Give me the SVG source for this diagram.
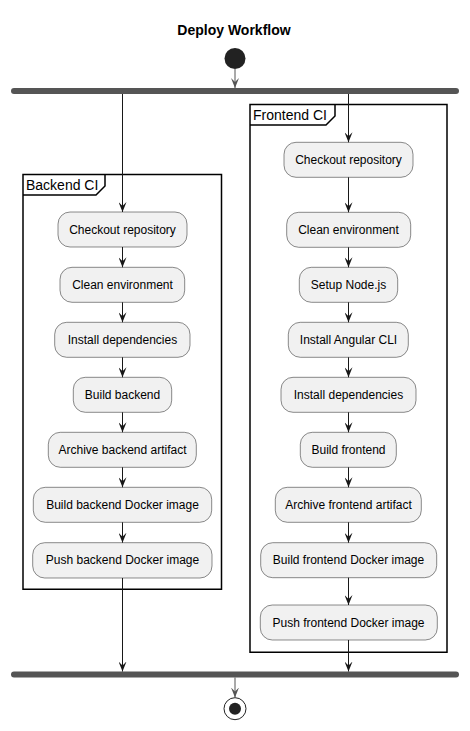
<svg xmlns="http://www.w3.org/2000/svg" width="470" height="731" viewBox="0 0 470 731">
<style>
.act rect{fill:#F1F1F1;stroke:#181818;stroke-width:0.5}
.act text{font-family:"Liberation Sans",Arial,sans-serif;font-size:12px;fill:#000;text-anchor:middle}
.frame path{fill:none;stroke:#000;stroke-width:1.5}
.frame text{font-family:"Liberation Sans",Arial,sans-serif;font-size:14px;fill:#000}
.ln{stroke:#181818;stroke-width:1;fill:none;marker-end:url(#ah)}
.lg{stroke:#555555;stroke-width:1;fill:none;marker-end:url(#ahg)}
.bar{fill:#555555}
</style>
<defs>
<marker id="ah" markerUnits="userSpaceOnUse" markerWidth="10" markerHeight="8" refX="10" refY="4" orient="auto" viewBox="0 0 10 8">
<path d="M0,0 L10,4 L0,8 L4,4 Z" fill="#181818"/>
</marker>
<marker id="ahg" markerUnits="userSpaceOnUse" markerWidth="10" markerHeight="8" refX="10" refY="4" orient="auto" viewBox="0 0 10 8">
<path d="M0,0 L10,4 L0,8 L4,4 Z" fill="#555555"/>
</marker>
</defs>
<rect width="470" height="731" fill="#FFFFFF"/>
<text x="234" y="34.5" font-family="'Liberation Sans',Arial,sans-serif" font-size="14" font-weight="bold" text-anchor="middle">Deploy Workflow</text>

<g id="start"><circle cx="235" cy="58.5" r="10.5" fill="#222222"/></g>
<g id="fork"><rect class="bar" x="11" y="88" width="448" height="6" rx="3"/></g>
<g id="join"><rect class="bar" x="11" y="671.5" width="448" height="6" rx="3"/></g>
<g id="end"><circle cx="235" cy="708.7" r="11" fill="#FFFFFF" stroke="#222222" stroke-width="1"/><circle cx="235" cy="708.7" r="6" fill="#222222"/></g>

<g id="frame-backend" class="frame">
<path d="M23,174.5 H221.5 V589.3 H23 Z"/>
<path d="M23,195 H96 L105,186 V174.5"/>
<text x="26" y="190">Backend CI</text>
</g>
<g id="frame-frontend" class="frame">
<path d="M250,104.5 H447 V652.3 H250 Z"/>
<path d="M250,125 H326 L335,116 V104.5"/>
<text x="253" y="120">Frontend CI</text>
</g>

<g id="b1" class="act"><rect x="58" y="212" width="129" height="35" rx="12"/><text x="122.5" y="233.7">Checkout repository</text></g>
<g id="b2" class="act"><rect x="60" y="267.3" width="124.7" height="35" rx="12"/><text x="122.5" y="289">Clean environment</text></g>
<g id="b3" class="act"><rect x="54.7" y="322.3" width="135.3" height="35" rx="12"/><text x="122.5" y="344">Install dependencies</text></g>
<g id="b4" class="act"><rect x="73.3" y="377.3" width="98.4" height="35" rx="12"/><text x="122.5" y="399">Build backend</text></g>
<g id="b5" class="act"><rect x="48.3" y="432.3" width="148" height="35" rx="12"/><text x="122.5" y="454">Archive backend artifact</text></g>
<g id="b6" class="act"><rect x="33.3" y="487.3" width="178.4" height="35" rx="12"/><text x="122.5" y="509">Build backend Docker image</text></g>
<g id="b7" class="act"><rect x="32.7" y="542.7" width="179.3" height="35.3" rx="12"/><text x="122.5" y="564.4">Push backend Docker image</text></g>

<g id="f1" class="act"><rect x="284" y="142.3" width="129" height="35" rx="12"/><text x="348.5" y="164">Checkout repository</text></g>
<g id="f2" class="act"><rect x="286.7" y="212.3" width="124" height="35" rx="12"/><text x="348.5" y="234">Clean environment</text></g>
<g id="f3" class="act"><rect x="299.3" y="267.3" width="98.4" height="35" rx="12"/><text x="348.5" y="289">Setup Node.js</text></g>
<g id="f4" class="act"><rect x="288.3" y="322.3" width="120" height="35" rx="12"/><text x="348.5" y="344">Install Angular CLI</text></g>
<g id="f5" class="act"><rect x="281" y="377.3" width="135" height="35" rx="12"/><text x="348.5" y="399">Install dependencies</text></g>
<g id="f6" class="act"><rect x="300.3" y="432.3" width="96" height="35" rx="12"/><text x="348.5" y="454">Build frontend</text></g>
<g id="f7" class="act"><rect x="275.3" y="487.3" width="146" height="35" rx="12"/><text x="348.5" y="509">Archive frontend artifact</text></g>
<g id="f8" class="act"><rect x="260.7" y="542.7" width="176" height="35" rx="12"/><text x="348.5" y="564.4">Build frontend Docker image</text></g>
<g id="f9" class="act"><rect x="260.3" y="605" width="177" height="35" rx="12"/><text x="348.5" y="626.7">Push frontend Docker image</text></g>

<g id="connectors">
<line class="lg" x1="235" y1="69" x2="235" y2="88"/>
<line class="ln" x1="122.5" y1="94" x2="122.5" y2="212"/>
<line class="ln" x1="122.5" y1="247" x2="122.5" y2="267.3"/>
<line class="ln" x1="122.5" y1="302.3" x2="122.5" y2="322.3"/>
<line class="ln" x1="122.5" y1="357.3" x2="122.5" y2="377.3"/>
<line class="ln" x1="122.5" y1="412.3" x2="122.5" y2="432.3"/>
<line class="ln" x1="122.5" y1="467.3" x2="122.5" y2="487.3"/>
<line class="ln" x1="122.5" y1="522.3" x2="122.5" y2="542.7"/>
<line class="ln" x1="122.5" y1="578" x2="122.5" y2="671.5"/>
<line class="ln" x1="348.5" y1="94" x2="348.5" y2="142.3"/>
<line class="ln" x1="348.5" y1="177.3" x2="348.5" y2="212.3"/>
<line class="ln" x1="348.5" y1="247.3" x2="348.5" y2="267.3"/>
<line class="ln" x1="348.5" y1="302.3" x2="348.5" y2="322.3"/>
<line class="ln" x1="348.5" y1="357.3" x2="348.5" y2="377.3"/>
<line class="ln" x1="348.5" y1="412.3" x2="348.5" y2="432.3"/>
<line class="ln" x1="348.5" y1="467.3" x2="348.5" y2="487.3"/>
<line class="ln" x1="348.5" y1="522.3" x2="348.5" y2="542.7"/>
<line class="ln" x1="348.5" y1="577.7" x2="348.5" y2="605"/>
<line class="ln" x1="348.5" y1="640" x2="348.5" y2="671.5"/>
<line class="lg" x1="235" y1="677.5" x2="235" y2="697.5"/>
</g>
</svg>
